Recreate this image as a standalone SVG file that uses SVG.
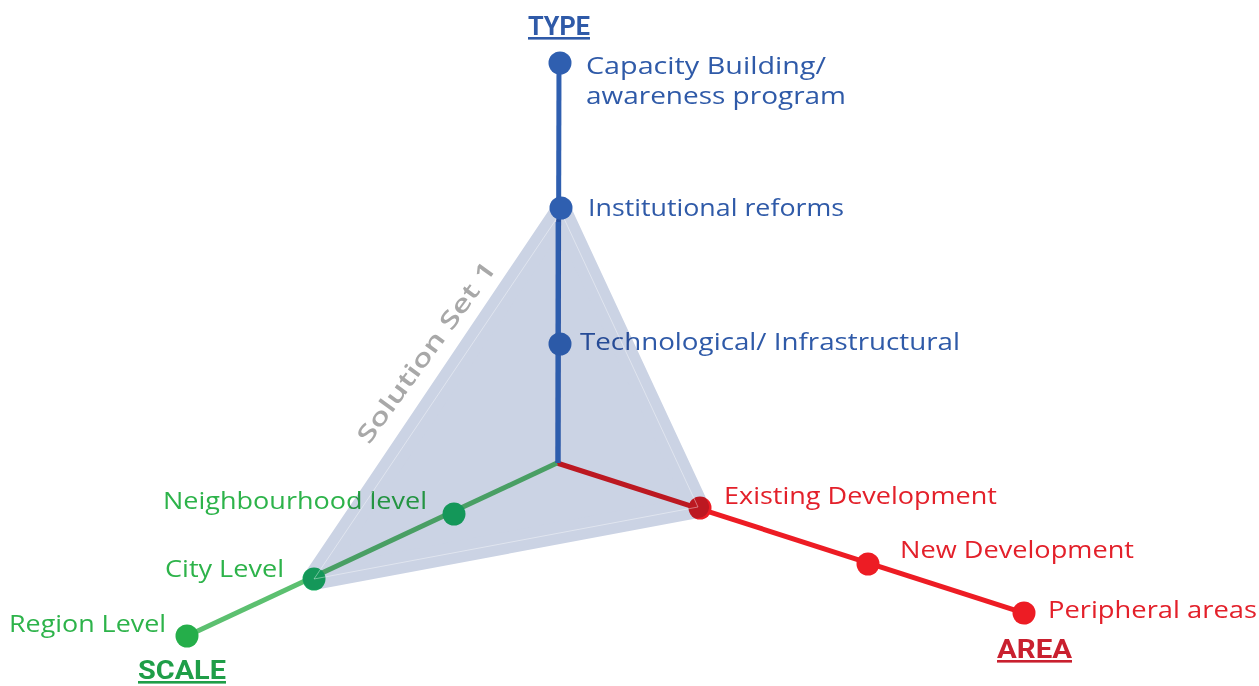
<svg xmlns="http://www.w3.org/2000/svg" width="1259" height="686" viewBox="0 0 1259 686">
<style>
text{font-family:"Open Sans","Noto Sans","Liberation Sans",sans-serif;font-size:24px}
.b{fill:#2f5aa8}.g{fill:#2db34a}.r{fill:#e3202a}
.h{font-family:"Roboto","Liberation Sans",sans-serif;font-weight:bold;font-size:26px;text-decoration:underline}
.bl{stroke:#2f5fb0;stroke-width:5;fill:none}
.gl{stroke:#5cc070;stroke-width:5;fill:none}
.rl{stroke:#ed1c24;stroke-width:5;fill:none}
</style>
<rect width="1259" height="686" fill="#fff"/>
<g id="connectors">
<line class="rl" x1="557" y1="463" x2="1024" y2="613"/>
<line class="gl" x1="557" y1="463" x2="187" y2="636"/>
<line class="bl" x1="559" y1="63" x2="558" y2="463"/>
</g>
<g id="area-axis">
<circle cx="700" cy="508" r="11.5" fill="#ed1c24"/>
<circle cx="868" cy="564" r="11.5" fill="#ed1c24"/>
<circle cx="1024" cy="613" r="11.5" fill="#ed1c24"/>
<text class="r" x="724" y="504" textLength="273" lengthAdjust="spacingAndGlyphs">Existing Development</text>
<text class="r" x="900" y="558" textLength="234" lengthAdjust="spacingAndGlyphs">New Development</text>
<text class="r" x="1048" y="618" textLength="209" lengthAdjust="spacingAndGlyphs">Peripheral areas</text>
<text class="h" x="997" y="658" fill="#c9202f" textLength="75" lengthAdjust="spacingAndGlyphs">AREA</text>
</g>
<g id="scale-axis">
<circle cx="454" cy="514" r="11.5" fill="#18b663"/>
<circle cx="314" cy="579" r="11.5" fill="#18b663"/>
<circle cx="187" cy="636" r="11.5" fill="#25ae4a"/>
<text class="g" x="163" y="509" textLength="264" lengthAdjust="spacingAndGlyphs">Neighbourhood level</text>
<text class="g" x="165" y="577" textLength="119" lengthAdjust="spacingAndGlyphs">City Level</text>
<text class="g" x="9" y="632" textLength="157" lengthAdjust="spacingAndGlyphs">Region Level</text>
<text class="h" x="138" y="679" fill="#1f9e48" textLength="88" lengthAdjust="spacingAndGlyphs">SCALE</text>
</g>
<g id="type-axis">
<circle cx="560" cy="63" r="11.5" fill="#2f5fb0"/>
<text class="h b" x="528" y="35" textLength="62" lengthAdjust="spacingAndGlyphs">TYPE</text>
<text class="b" x="586" y="74" textLength="240" lengthAdjust="spacingAndGlyphs">Capacity Building/</text>
<text class="b" x="586" y="104" textLength="260" lengthAdjust="spacingAndGlyphs">awareness program</text>
<text class="b" x="588" y="216" textLength="256" lengthAdjust="spacingAndGlyphs">Institutional reforms</text>
<text class="b" x="580" y="350" textLength="380" lengthAdjust="spacingAndGlyphs">Technological/ Infrastructural</text>
</g>
<g id="solution-set-1">
<polygon points="561,212 314,579 698,507" fill="#cbd3e4" stroke="#cbd3e4" stroke-width="22" stroke-linejoin="round" style="mix-blend-mode:multiply"/>
<polygon points="561,212 314,579 698,507" fill="none" stroke="#fff" stroke-opacity="0.4" stroke-width="1"/>
<text x="0" y="0" transform="translate(433,357) rotate(-54)" text-anchor="middle" fill="#a8a8a8" font-weight="600" font-size="28" textLength="218" lengthAdjust="spacingAndGlyphs">Solution Set 1</text>
</g>
<g id="type-axis-front">
<line class="bl" x1="558" y1="222" x2="558" y2="463" stroke-opacity="0.85"/>
<circle cx="561" cy="208" r="11.5" fill="#2f5fb0"/>
<circle cx="560" cy="344" r="11.5" fill="#2c5aa8"/>
</g>
</svg>
